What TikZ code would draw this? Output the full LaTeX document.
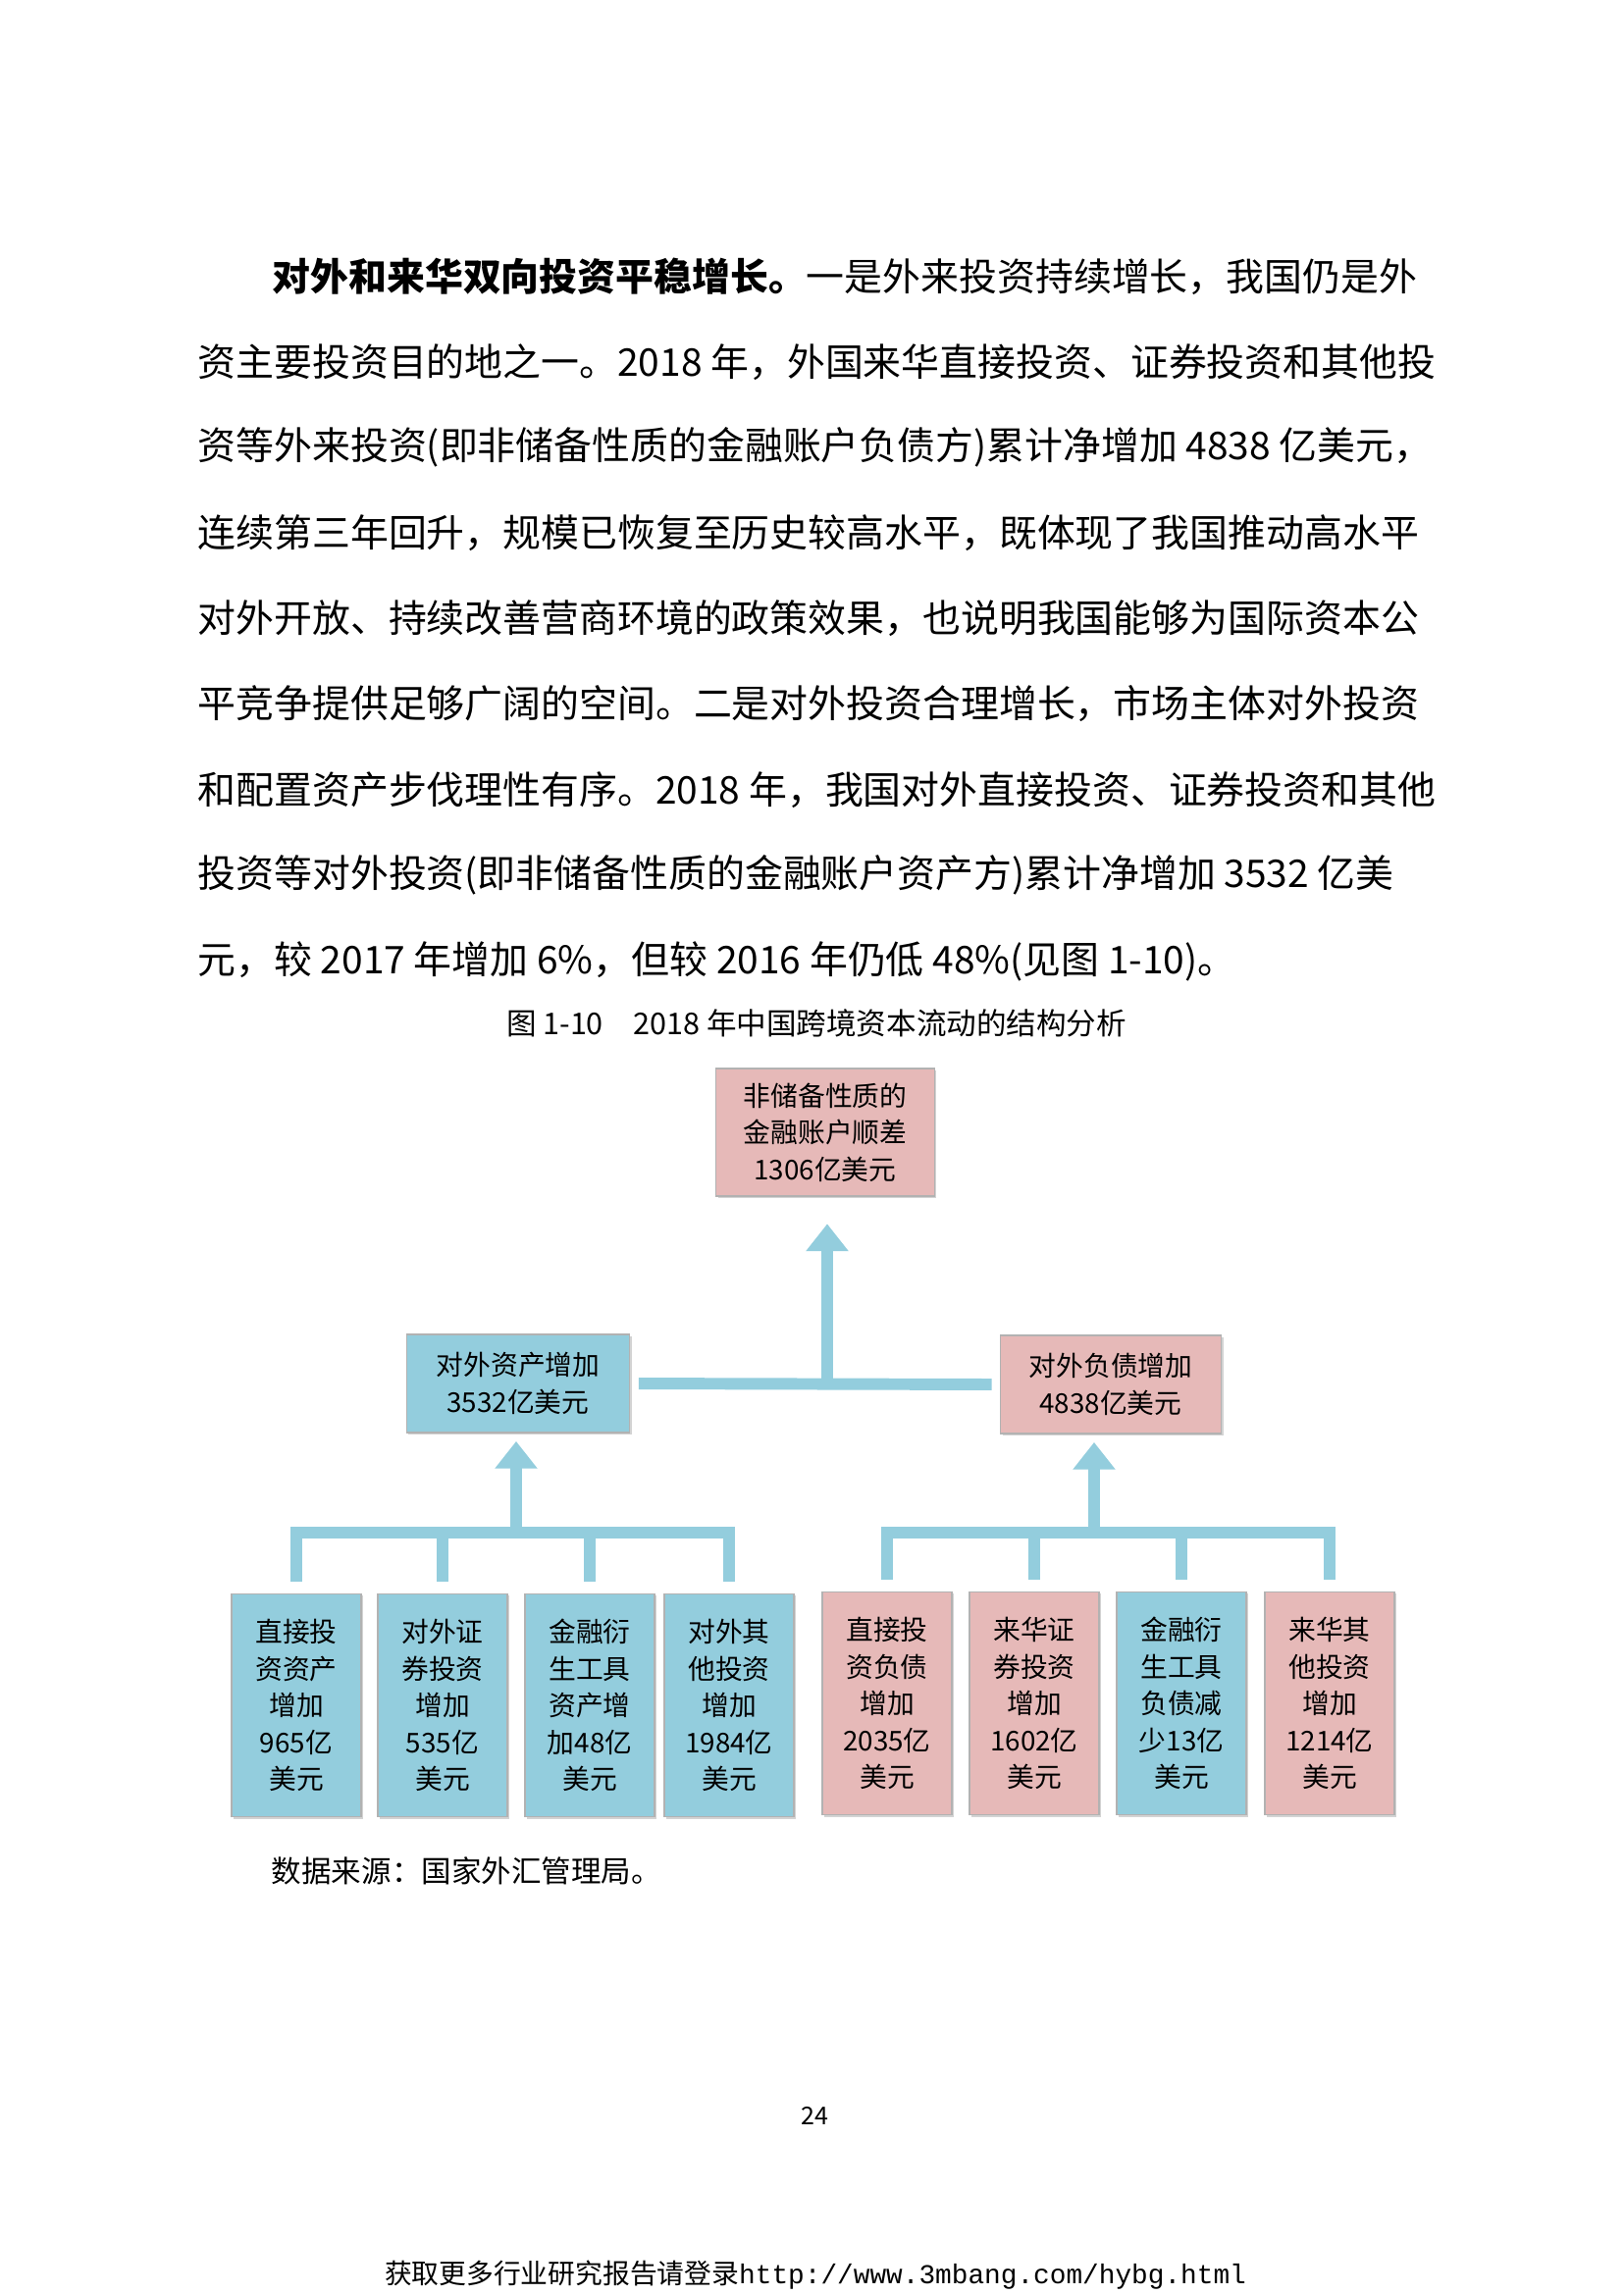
\documentclass[tikz,border=0pt]{standalone}
\usepackage{fontspec}
\setmainfont{Noto Sans CJK SC}
\setmonofont{Liberation Mono}
\usepackage{xcolor}
\usetikzlibrary{arrows.meta,shadows}
\definecolor{flowblue}{RGB}{147,205,221}
\definecolor{flowpink}{RGB}{230,185,184}

\begin{document}
\begin{tikzpicture}[x=0.36pt,y=-0.36pt,
    bodyline/.style={anchor=west,inner sep=0pt,font=\fontsize{14pt}{16pt}\selectfont},
    box/.style={draw=gray!60,line width=0.4pt,align=center,inner sep=1pt,
      drop shadow={shadow xshift=0.8pt,shadow yshift=-0.8pt,opacity=0.35},
      font=\fontsize{10pt}{13.5pt}\selectfont},
    bluebox/.style={box,fill=flowblue},
    pinkbox/.style={box,fill=flowpink},
    tallbox/.style={minimum width=47.5pt,minimum height=82pt},
    link/.style={draw=flowblue,line width=4.3pt},
    uparrow/.style={link,-{Triangle[width=15pt,length=10pt]}}]
        \useasboundingbox (0,0) rectangle (1654,2339);
        % body text
        \node [bodyline] (l1) at (277,282) {\textbf{对外和来华双向投资平稳增长。}一是外来投资持续增长，我国仍是外};
        \node [bodyline] (l2) at (201,369) {资主要投资目的地之一。2018 年，外国来华直接投资、证券投资和其他投};
        \node [bodyline] (l3) at (201,456) {资等外来投资(即非储备性质的金融账户负债方)累计净增加 4838 亿美元，};
        \node [bodyline] (l4) at (201,543) {连续第三年回升，规模已恢复至历史较高水平，既体现了我国推动高水平};
        \node [bodyline] (l5) at (201,630) {对外开放、持续改善营商环境的政策效果，也说明我国能够为国际资本公};
        \node [bodyline] (l6) at (201,717) {平竞争提供足够广阔的空间。二是对外投资合理增长，市场主体对外投资};
        \node [bodyline] (l7) at (201,805) {和配置资产步伐理性有序。2018 年，我国对外直接投资、证券投资和其他};
        \node [bodyline] (l8) at (201,892) {投资等对外投资(即非储备性质的金融账户资产方)累计净增加 3532 亿美};
        \node [bodyline] (l9) at (201,980) {元，较 2017 年增加 6\%，但较 2016 年仍低 48\%(见图 1-10)。};
        \node [font=\fontsize{11pt}{13pt}\selectfont] (cap) at (832,1043) {图 1-10\quad 2018 年中国跨境资本流动的结构分析};
    
        % boxes
        \node [pinkbox,minimum width=80pt,minimum height=46.8pt] (top) at (841,1154) {非储备性质的\\金融账户顺差\\1306亿美元};
        \node [bluebox,minimum width=82pt,minimum height=36pt] (assets) at (528,1410) {对外资产增加\\3532亿美元};
        \node [pinkbox,minimum width=81pt,minimum height=36pt] (liab) at (1132,1411) {对外负债增加\\4838亿美元};
    
        \node [bluebox,tallbox] (a1) at (302,1738) {直接投\\资资产\\增加\\965亿\\美元};
        \node [bluebox,tallbox] (a2) at (451,1738) {对外证\\券投资\\增加\\535亿\\美元};
        \node [bluebox,tallbox] (a3) at (601,1738) {金融衍\\生工具\\资产增\\加48亿\\美元};
        \node [bluebox,tallbox] (a4) at (743,1738) {对外其\\他投资\\增加\\1984亿\\美元};
        \node [pinkbox,tallbox] (b1) at (904,1736) {直接投\\资负债\\增加\\2035亿\\美元};
        \node [pinkbox,tallbox] (b2) at (1054,1736) {来华证\\券投资\\增加\\1602亿\\美元};
        \node [bluebox,tallbox] (b3) at (1204,1736) {金融衍\\生工具\\负债减\\少13亿\\美元};
        \node [pinkbox,tallbox] (b4) at (1355,1736) {来华其\\他投资\\增加\\1214亿\\美元};
    
        % connectors
        \coordinate (abar) at (526,1562);
        \coordinate (bbar) at (1115,1562);
        \coordinate (mid) at (843,1409);
        \draw [link,shorten <=3pt,shorten >=3pt] (assets.east) -- (liab.west);
        \draw [uparrow,shorten >=10pt] (mid) -- (mid |- top.south);
        \draw [uparrow,shorten >=3pt] (abar) -- (abar |- assets.south);
        \draw [uparrow,shorten >=3pt] (bbar) -- (bbar |- liab.south);
        \draw [link,shorten <=4pt] (a1.north) |- (abar) -| ([shift={(0,-12)}]a4.north);
        \draw [link,shorten <=4pt] (b1.north) |- (bbar) -| ([shift={(0,-12)}]b4.north);
        \foreach \n in {a2,a3,b2,b3}
          \draw [link,shorten <=4pt] (\n.north) -- (\n.north |- abar);
    
        % notes
        \node [anchor=west,font=\fontsize{11pt}{13pt}\selectfont] (src) at (267,1907) {数据来源：国家外汇管理局。};
        \node [font=\fontsize{9pt}{11pt}\selectfont] (page) at (830,2156) {24};
        \node [font=\fontsize{10pt}{12pt}\selectfont] (foot) at (831,2319) {获取更多行业研究报告请登录\texttt{http://www.3mbang.com/hybg.html}};
    \end{tikzpicture}
\end{document}
